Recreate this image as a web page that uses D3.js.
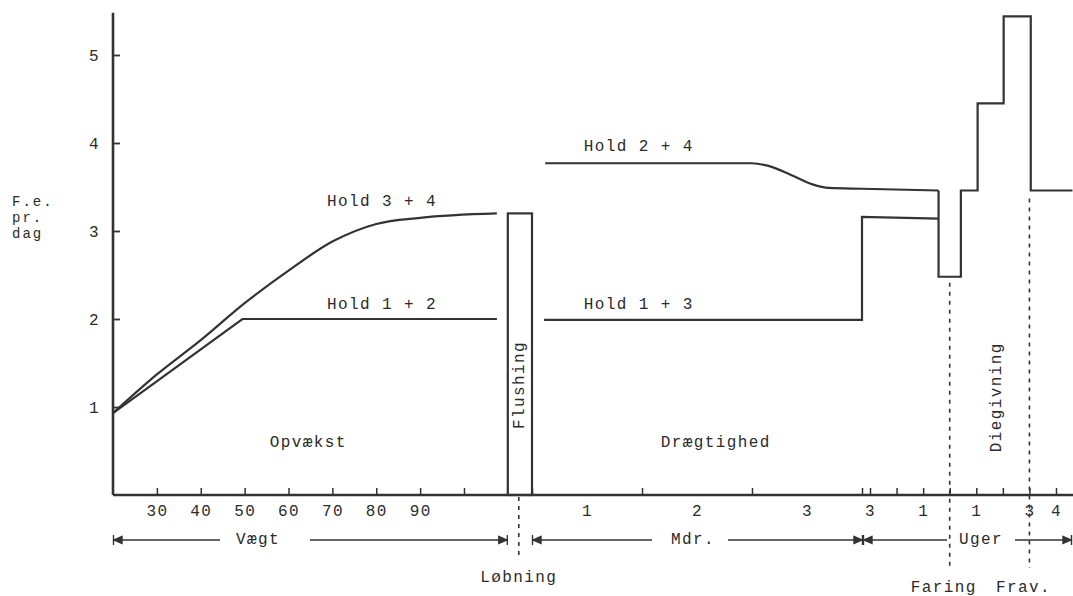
<!DOCTYPE html>
<meta charset="utf-8">
<style>
body { margin: 0; background: #fff; }
.linje { fill: none; stroke: #333; stroke-width: 2.2px; }
.tekst { font-family: "Liberation Mono", "DejaVu Sans Mono", monospace; font-size: 16px; letter-spacing: 1.4px; fill: #2b2b2b; }
.ytitel { font-size: 14px; letter-spacing: 2px; }
.stiplet { stroke: #333; stroke-width: 1.6px; stroke-dasharray: 4 5; }
.akse { stroke: #333; stroke-width: 2.6px; }
</style>
<body>
<script src="https://d3js.org/d3.v7.min.js"></script>
<script>
// --- data ---
var yTicks = [1, 2, 3, 4, 5];
var vaegtTicks = [30, 40, 50, 60, 70, 80, 90, 100];   // kg
var vaegtLabels = [30, 40, 50, 60, 70, 80, 90];
var mdrTicks = [0, 1, 2, 3];                           // months after mating
var mdrLabels = [0.5, 1.5, 2.5];
var ugeTicks = [-3, -2, -1, 0, 1, 2, 3, 4];            // weeks around farrowing
var ugeLabels = [-3, -1, 1, 3, 4];

// series: [axis, position, F.e. pr. dag]
var hold12 = [["kg", 20, 0.93], ["kg", 49.5, 2.0], ["kg", 107.5, 2.0]];
var hold34 = [["kg", 20, 0.93], ["kg", 30, 1.37], ["kg", 40, 1.76], ["kg", 50, 2.18],
              ["kg", 60, 2.55], ["kg", 70, 2.88], ["kg", 80, 3.08], ["kg", 90, 3.15], ["kg", 107.5, 3.2]];
var hold24 = [["mdr", 0.12, 3.77], ["mdr", 2.0, 3.77], ["mdr", 2.15, 3.74], ["mdr", 2.35, 3.64],
              ["mdr", 2.55, 3.53], ["mdr", 2.7, 3.49], ["mdr", 3.0, 3.48], ["uge", -0.42, 3.46]];
var hold13 = [["mdr", 0.11, 1.99], ["mdr", 3.0, 1.99], ["mdr", 3.0, 3.16], ["uge", -0.42, 3.14]];
var diegivning = [["uge", -0.42, 3.46], ["uge", -0.42, 2.48], ["uge", 0.42, 2.48], ["uge", 0.42, 3.46],
                  ["uge", 1.05, 3.46], ["uge", 1.05, 4.45], ["uge", 2.03, 4.45], ["uge", 2.03, 5.44],
                  ["uge", 3.05, 5.44], ["uge", 3.05, 3.46], ["uge", 4.62, 3.46]];
var flushing = {fra: -0.22, til: 0, vaerdi: 3.2};    // months
var loebning = -0.12, faring = 0, frav = 3;

var width = 1073, height = 596;

var y = d3.scaleLinear().domain([0, 5]).range([495, 55]);
var xKg = d3.scaleLinear().domain([20, 100]).range([113, 464]);
var xMdr = d3.scaleLinear().domain([0, 3]).range([532, 862]);
var xUge = d3.scaleLinear().domain([-3, 4]).range([870, 1056]);
var skala = {kg: xKg, mdr: xMdr, uge: xUge};

var svg = d3.select("body").append("svg")
    .attr("width", width)
    .attr("height", height);

// arrow markers (arrowhead with a stop bar)
var defs = svg.append("defs");
defs.append("marker").attr("id", "hoejre")
    .attr("viewBox", "0 -6 12 12").attr("refX", 11).attr("refY", 0)
    .attr("markerWidth", 12).attr("markerHeight", 12).attr("markerUnits", "userSpaceOnUse")
    .attr("orient", "0")
  .append("path").attr("d", "M2,-3.5L10,0L2,3.5Z M10.5,-5V5").attr("fill", "#333").attr("stroke", "#333").attr("stroke-width", 1.4);
defs.append("marker").attr("id", "venstre")
    .attr("viewBox", "0 -6 12 12").attr("refX", 1).attr("refY", 0)
    .attr("markerWidth", 12).attr("markerHeight", 12).attr("markerUnits", "userSpaceOnUse")
    .attr("orient", "0")
  .append("path").attr("d", "M10,-3.5L2,0L10,3.5Z M1.5,-5V5").attr("fill", "#333").attr("stroke", "#333").attr("stroke-width", 1.4);

function px(d) { return skala[d[0]](d[1]); }
var linje = d3.line().x(px).y(function(d) { return y(d[2]); });
var bue = d3.line().x(px).y(function(d) { return y(d[2]); }).curve(d3.curveMonotoneX);

// Y axis
svg.append("line").attr("class", "akse")
    .attr("x1", xKg(20)).attr("x2", xKg(20)).attr("y1", y(0)).attr("y2", y(5.48));
var ya = svg.append("g")
    .attr("transform", "translate(" + xKg(20) + ",0)")
    .call(d3.axisLeft(y).tickValues(yTicks).tickSizeInner(-7).tickSizeOuter(0).tickPadding(13).tickFormat(d3.format("d")));
ya.select(".domain").remove();
ya.selectAll("line").attr("stroke", "#333").attr("stroke-width", 1.8);
ya.selectAll("text").attr("class", "tekst").attr("font-family", null).attr("font-size", null);

// X axis line
svg.append("line").attr("class", "akse")
    .attr("x1", xKg(20)).attr("x2", width).attr("y1", y(0)).attr("y2", y(0));

function xAkse(s, ticks, fmt) {
  var g = svg.append("g")
      .attr("transform", "translate(0," + y(0) + ")")
      .call(d3.axisBottom(s).tickValues(ticks).tickSizeInner(-7).tickSizeOuter(0).tickPadding(10).tickFormat(fmt));
  g.select(".domain").remove();
  g.selectAll("line").attr("stroke", "#333").attr("stroke-width", 1.5);
  g.selectAll("text").attr("class", "tekst").attr("font-family", null).attr("font-size", null);
  return g;
}
xAkse(xKg, vaegtTicks, function(d) { return vaegtLabels.indexOf(d) >= 0 ? d : ""; });
xAkse(xMdr, mdrTicks, function() { return ""; });
var ml = xAkse(xMdr, mdrLabels, function(d) { return Math.ceil(d); });
ml.selectAll("line").remove();
xAkse(xUge, ugeTicks, function(d) { return ugeLabels.indexOf(d) >= 0 ? Math.abs(d) : ""; });

// flushing bar
svg.append("rect")
    .attr("x", xMdr(flushing.fra)).attr("width", xMdr(flushing.til) - xMdr(flushing.fra))
    .attr("y", y(flushing.vaerdi)).attr("height", y(0) - y(flushing.vaerdi))
    .attr("fill", "none").attr("stroke", "#333").attr("stroke-width", 2.2);

// series
svg.append("path").datum(hold12).attr("class", "linje").attr("d", linje);
svg.append("path").datum(hold34).attr("class", "linje").attr("d", bue);
svg.append("path").datum(hold24).attr("class", "linje").attr("d", bue);
svg.append("path").datum(hold13).attr("class", "linje").attr("d", linje);
svg.append("path").datum(diegivning).attr("class", "linje").attr("d", linje);

// dashed event lines
svg.append("line").attr("class", "stiplet")
    .attr("x1", xMdr(loebning)).attr("x2", xMdr(loebning)).attr("y1", y(0) + 2).attr("y2", 560);
svg.append("line").attr("class", "stiplet")
    .attr("x1", xUge(faring)).attr("x2", xUge(faring)).attr("y1", y(2.48) + 6).attr("y2", 568);
svg.append("line").attr("class", "stiplet")
    .attr("x1", xUge(frav)).attr("x2", xUge(frav)).attr("y1", y(3.46) + 8).attr("y2", 568);

// labels inside the chart
var etiketter = [
  ["Hold 3 + 4", "kg", 81.3, 3.33, 0],
  ["Hold 1 + 2", "kg", 81.3, 2.16, 0],
  ["Hold 2 + 4", "mdr", 0.97, 3.95, 0],
  ["Hold 1 + 3", "mdr", 0.97, 2.16, 0],
  ["Opvækst", "kg", 64.5, 0.59, 0],
  ["Drægtighed", "mdr", 1.67, 0.59, 0],
  ["Flushing", "mdr", -0.11, 1.25, -90],
  ["Diegivning", "uge", 1.77, 1.11, -90]
];
svg.selectAll(".etiket").data(etiketter).enter().append("text")
    .attr("class", "tekst")
    .attr("text-anchor", "middle")
    .attr("dominant-baseline", "central")
    .attr("transform", function(d) {
      return "translate(" + skala[d[1]](d[2]) + "," + y(d[3]) + ") rotate(" + d[4] + ")";
    })
    .text(function(d) { return d[0]; });

// y title
svg.selectAll(".ytitel").data(["F.e.", "pr.", "dag"]).enter().append("text")
    .attr("class", "tekst ytitel").attr("x", 12)
    .attr("y", function(d, i) { return 206 + i * 16; })
    .text(function(d) { return d; });

// period arrows: line, label, line
var pile = [
  {tekst: "Vægt", fra: xKg(20), til: xMdr(flushing.fra), midt: 258, v: 220, h: 310},
  {tekst: "Mdr.", fra: xMdr(0), til: xMdr(3) + 1, midt: 693, v: 652, h: 728},
  {tekst: "Uger", fra: xMdr(3) + 1, til: width - 1, midt: 981, v: 947, h: 1015}
];
var pilY = 540;
pile.forEach(function(p) {
  svg.append("line").attr("x1", p.fra).attr("x2", p.v).attr("y1", pilY).attr("y2", pilY)
      .attr("stroke", "#333").attr("stroke-width", 1.5)
      .attr("marker-start", "url(#venstre)");
  svg.append("line").attr("x1", p.h).attr("x2", p.til).attr("y1", pilY).attr("y2", pilY)
      .attr("stroke", "#333").attr("stroke-width", 1.5)
      .attr("marker-end", "url(#hoejre)");
  svg.append("text").attr("class", "tekst").attr("text-anchor", "middle")
      .attr("dominant-baseline", "central")
      .attr("x", p.midt).attr("y", pilY).text(p.tekst);
});

// event names under the axis
var haendelser = [["Løbning", xMdr(loebning), 578], ["Faring", xUge(faring) - 6, 588], ["Frav.", xUge(frav) - 6, 588]];
svg.selectAll(".haendelse").data(haendelser).enter().append("text")
    .attr("class", "tekst").attr("text-anchor", "middle").attr("dominant-baseline", "central")
    .attr("x", function(d) { return d[1]; }).attr("y", function(d) { return d[2]; })
    .text(function(d) { return d[0]; });
</script>
</body>
